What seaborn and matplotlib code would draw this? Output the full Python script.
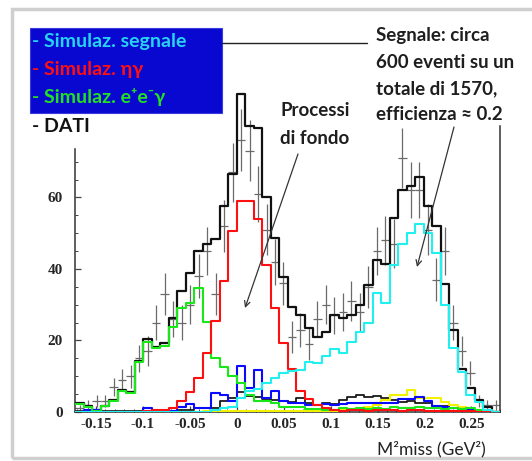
import numpy as np
import pandas as pd
import matplotlib
matplotlib.use('Agg')
import matplotlib.pyplot as plt
from matplotlib.patches import Rectangle
from matplotlib.lines import Line2D
import seaborn as sns

# binning of the M2miss histograms: 50 bins starting at bin_lo
bin_lo = -0.172
bin_w = 0.00905
n_bins = 50

# events per bin
dati = [1, 2, 3, 3, 7, 9, 10, 15, 17, 25,
        33, 26, 25, 30, 38, 45, 33, 52, 67, 76,
        73, 61, 51, 42, 36, 21, 23, 19, 26, 30,
        27, 28, 31, 28, 35, 45, 48, 47, 71, 62,
        62, 51, 37, 45, 25, 17, 11, 3, 2, 2]

totale_sim = [2.4, 1.6, 0.6, 1.8, 3.4, 6.2, 5.6, 14.2, 20.4, 18.2,
              19.3, 26.2, 33.8, 38.9, 45.0, 47.0, 48.5, 57.6, 66.6, 88.8,
              80.1, 79.4, 60.0, 48.6, 37.7, 29.5, 27.0, 23.6, 21.0, 22.5,
              27.2, 26.2, 27.2, 30.0, 35.6, 42.6, 41.4, 54.2, 62.0, 63.2,
              65.6, 57.7, 51.9, 35.7, 23.0, 12.0, 6.6, 3.4, 1.5, 0]

segnale = [0, 0, 0, 0, 0, 0, 0, 0, 0, 0,
           0, 0, 0, 0, 0, 0, 0.5, 1.0, 1.5, 4.0,
           6.0, 6.5, 8.1, 9.5, 10.9, 11.4, 11.8, 14.0, 13.6, 15.6,
           17.7, 16.4, 19.7, 22.5, 25.0, 33.2, 30.6, 41.2, 47.0, 50.0,
           52.7, 50.0, 44.6, 30.0, 18.0, 11.3, 4.8, 2.9, 0.6, 0]

eta_gamma = [0, 0, 0, 0, 0, 0, 0, 0, 0.3, 0.5,
             0.5, 1.0, 3.0, 5.5, 9.5, 16.6, 25.5, 36.5, 50.5, 59.0,
             59.0, 54.0, 41.0, 29.0, 19.3, 12.0, 6.0, 3.5, 2.0, 1.0,
             0.5, 0.3, 0.5, 0.5, 0.3, 0.5, 0.5, 0.5, 0.3, 0.5,
             0.5, 0.3, 0.3, 0.3, 0.3, 0.2, 0.2, 0, 0, 0]

ee_gamma = [2.2, 1.5, 0.4, 1.6, 3.2, 6.0, 5.4, 14.0, 19.5, 18.0,
            18.5, 23.8, 29.0, 30.5, 34.7, 25.3, 15.2, 12.5, 10.0, 8.0,
            4.7, 3.0, 3.0, 2.5, 1.5, 1.5, 1.5, 0.8, 0.8, 0.5,
            0.5, 1.0, 0.8, 1.2, 0.8, 1.0, 0.8, 1.5, 1.0, 1.0,
            1.5, 1.0, 1.0, 0.8, 1.2, 0.8, 1.0, 0.5, 0.3, 0]

fondo_blu = [0, 0.5, 0.5, 0, 0, 0, 0, 0, 1.0, 0.3,
             0.3, 0.3, 1.5, 2.3, 1.0, 1.0, 5.2, 4.8, 3.2, 12.8,
             6.8, 11.8, 4.0, 5.9, 3.2, 2.4, 2.4, 2.0, 2.0, 2.3,
             2.0, 2.3, 2.5, 2.5, 2.5, 2.5, 2.5, 2.5, 3.6, 3.6,
             4.2, 3.0, 1.7, 1.5, 1.0, 0.8, 0.5, 0.3, 0.2, 0]

fondo_nero = [0.3, 0.3, 0.3, 0.3, 0.3, 0.3, 0.3, 0.3, 0.3, 0.3,
              0.3, 0.3, 0.5, 0.5, 1.0, 1.0, 1.0, 3.0, 4.0, 5.7,
              4.5, 4.2, 3.5, 3.3, 3.0, 2.9, 3.8, 2.6, 1.9, 2.6,
              2.3, 3.4, 4.3, 4.8, 4.2, 4.5, 3.8, 3.4, 2.9, 3.2,
              2.4, 2.4, 1.7, 1.7, 1.2, 0.8, 0.5, 0.3, 0.2, 0]

fondo_giallo = [0, 0, 0, 0, 0, 0, 0, 0, 0, 0,
                0, 0, 0, 0, 0, 0.2, 0.2, 0.2, 0.2, 0.2,
                0.2, 0.2, 0.2, 0.2, 0.2, 0.2, 0.2, 0.2, 0.2, 0.2,
                0.2, 0.5, 0.8, 1.0, 1.5, 1.9, 3.4, 4.8, 4.8, 6.2,
                4.0, 3.8, 3.8, 2.9, 1.9, 1.5, 1.0, 0.5, 0.3, 0]

x_ticks = [-0.15, -0.1, -0.05, 0, 0.05, 0.1, 0.15, 0.2, 0.25]
x_tick_labels = ['-0.15', '-0.1', '-0.05', '0', '0.05', '0.1', '0.15', '0.2', '0.25']
y_ticks = [0, 20, 40, 60]

legend_lines = ['- Simulaz. segnale', '- Simulaz. \u03b7\u03b3', '- Simulaz. e\u207ae\u207b\u03b3', '- DATI']
legend_colors = ['#27d3f3', '#ff1010', '#22e022', '#111111']
note_lines = ['Segnale: circa', '600 eventi su un', 'totale di 1570,', 'efficienza \u2248 0.2']
fondo_lines = ['Processi', 'di fondo']

W, H = 532, 461
edges = bin_lo + bin_w * np.arange(n_bins + 1)
centers = edges[:-1] + bin_w / 2

sns.set_style('white')
sans = ['Lato', 'DejaVu Sans']
serif = ['Liberation Serif', 'DejaVu Serif']

fig = plt.figure(figsize=(W / 100, H / 100), dpi=100)
ax = fig.add_axes([75 / W, 49 / H, 425 / W, 329 / H])
ax.set_facecolor('none')

# data points with poisson errors
d = np.array(dati, dtype=float)
ax.errorbar(centers, d, yerr=np.sqrt(d), xerr=bin_w / 2, fmt='none',
            ecolor='#6a6a6a', elinewidth=0.9, capsize=0, zorder=2)

series = [
    (totale_sim, '#111111', 1.6),
    (fondo_nero, '#1a1a1a', 1.3),
    (fondo_giallo, '#f2f200', 1.5),
    (fondo_blu, '#0a0aff', 1.5),
    (ee_gamma, '#18e818', 1.5),
    (eta_gamma, '#ff1010', 1.5),
    (segnale, '#20f0f0', 1.5),
]
for vals, col, lw in series:
    df = pd.DataFrame({'m2miss': centers, 'eventi': vals})
    sns.histplot(data=df, x='m2miss', weights='eventi', bins=n_bins,
                 binrange=(edges[0], edges[-1]), element='step', fill=False,
                 color=col, linewidth=lw, ax=ax, zorder=3)

ax.set_xlim(-0.1725, 0.2805)
ax.set_ylim(0, 92)
ax.set_xlabel('')
ax.set_ylabel('')

ax.spines['top'].set_visible(False)
for side in ['left', 'right', 'bottom']:
    ax.spines[side].set_visible(True)
    ax.spines[side].set_color('#333333')
    ax.spines[side].set_linewidth(1.1)
ax.spines['left'].set_bounds(0, 73.5)
ax.spines['right'].set_bounds(0, 80)

ax.set_xticks(x_ticks)
ax.set_xticklabels(x_tick_labels)
ax.set_xticks(np.arange(-0.17, 0.28, 0.01), minor=True)
ax.set_yticks(y_ticks)
ax.set_yticks([v for v in range(5, 75, 5) if v not in y_ticks], minor=True)
ax.tick_params(which='both', direction='in', top=False, right=False,
               bottom=True, left=True, color='#444444')
ax.tick_params(which='major', length=4, width=0.9)
ax.tick_params(which='minor', length=2.5, width=0.7)
ax.tick_params(axis='y', pad=9)
ax.tick_params(axis='x', pad=4)
for lab in ax.get_xticklabels() + ax.get_yticklabels():
    lab.set_family(serif)
    lab.set_weight('bold')
    lab.set_fontsize(11)

def fx(px):
    return px / W

def fy(py):
    return 1 - py / H

# outer frame of the slide picture
fig.add_artist(Rectangle((fx(12), fy(458)), fx(560) - fx(12), fy(9) - fy(458),
                         transform=fig.transFigure, fill=False,
                         edgecolor='#cfcfcf', linewidth=2.5))

# legend box
fig.add_artist(Rectangle((fx(30), fy(113)), fx(192), 85 / H, transform=fig.transFigure,
                         facecolor='#0808d0', edgecolor='#3a3ae0', linewidth=0.8))
legend_y = [42, 70, 97, 127]
for txt, col, yy in zip(legend_lines, legend_colors, legend_y):
    fig.text(fx(32), fy(yy), txt, color=col, fontsize=14, fontweight='bold',
             family=sans, ha='left', va='center')

fig.add_artist(Line2D([fx(222), fx(367)], [fy(43), fy(43)], transform=fig.transFigure,
                      color='#222222', linewidth=1.0))

for txt, yy in zip(note_lines, [35, 62, 89, 114]):
    fig.text(fx(376), fy(yy), txt, color='#1e1e1e', fontsize=13.5, fontweight='bold',
             family=sans, ha='left', va='center')
for txt, yy in zip(fondo_lines, [111, 138]):
    fig.text(fx(315), fy(yy), txt, color='#1e1e1e', fontsize=13.5, fontweight='bold',
             family=sans, ha='center', va='center')

arrow = dict(arrowstyle='->', color='#333333', lw=0.9, shrinkA=0, shrinkB=0)
ax.annotate('', xy=(245, H - 308), xytext=(298, H - 154),
            xycoords='figure pixels', textcoords='figure pixels', arrowprops=arrow)
ax.annotate('', xy=(417, H - 267), xytext=(454, H - 127),
            xycoords='figure pixels', textcoords='figure pixels', arrowprops=arrow)

fig.text(fx(377), fy(449), 'M\u00b2miss (GeV\u00b2)', color='#222222', fontsize=12.5,
         family=sans, ha='left', va='center')

fig.savefig('out.png', dpi=100)
